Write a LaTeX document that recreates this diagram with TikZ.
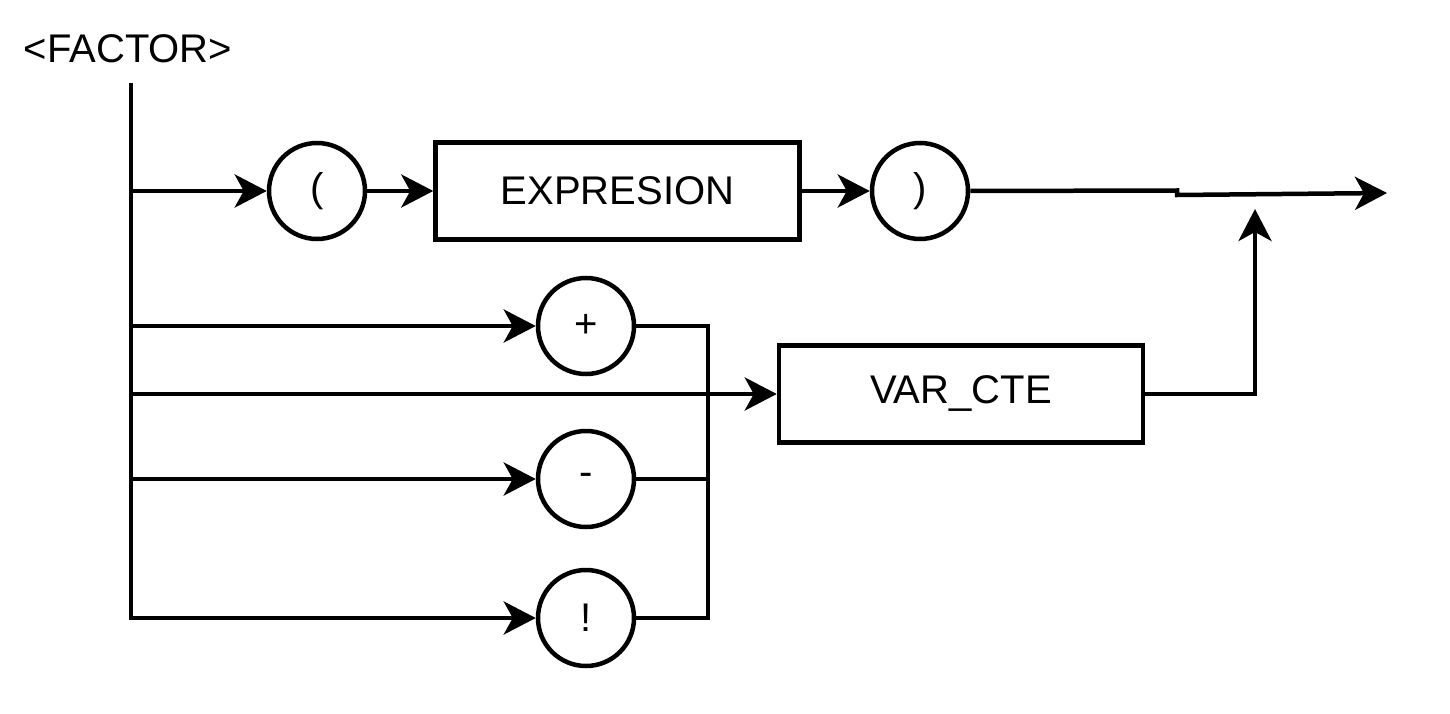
\documentclass[tikz,border=0pt]{standalone}
\usepackage{fontspec}
\setmainfont{Liberation Sans}
\usetikzlibrary{arrows.meta}
\begin{document}
\begin{tikzpicture}[x=1pt,y=-1pt, line width=4.5pt,
 arr/.style={-{Stealth[length=32pt,width=33pt,inset=9pt]}},
 lbl/.style={font=\fontsize{40}{40}\selectfont},
 term/.style={circle,draw,minimum size=96pt,inner sep=0pt,lbl},
 nonterm/.style={rectangle,draw,minimum width=364pt,minimum height=97pt,inner sep=0pt,lbl}]
\useasboundingbox (0,0) rectangle (1450,714);
\node[lbl,inner sep=0pt] (title) at (128,49) {<FACTOR>};
\coordinate (top) at (131,83);
\coordinate (r1) at (131,191);
\coordinate (r2) at (131,326);
\coordinate (r3) at (131,394);
\coordinate (r4) at (131,479);
\node[term] (c1) at (317,191) {(};
\node[nonterm] (ebox) at (617.5,191) {EXPRESION};
\node[term] (c2) at (920,191) {)};
\node[term] (cplus) at (586,326) {+};
\node[nonterm] (vbox) at (961,394) {VAR\_CTE};
\node[term] (cminus) at (586,479) {-};
\node[term] (cbang) at (586,618) {!};
\coordinate (k1) at (1177,190.5);
\coordinate (k2) at (1177,195);
\coordinate (exit) at (1387,193);
\coordinate (jb) at (708,618);
\coordinate (jm) at (708,479);
\coordinate (up) at (1255,209);
\draw[arr] (top) |- (cbang);
\draw[arr] (r1) -- (c1);
\draw[arr] (c1) -- (ebox);
\draw[arr] (ebox) -- (c2);
\draw[arr] (c2.east) -- (k1) -- (k2) -- (exit);
\draw[arr] (r2) -- (cplus);
\draw[arr] (r3) -- (vbox);
\draw[arr] (r4) -- (cminus);
\draw (cplus.east) -| (jb) -- (cbang.east);
\draw (cminus.east) -- (jm);
\draw[arr] (vbox.east) -| (up);
\end{tikzpicture}
\end{document}
